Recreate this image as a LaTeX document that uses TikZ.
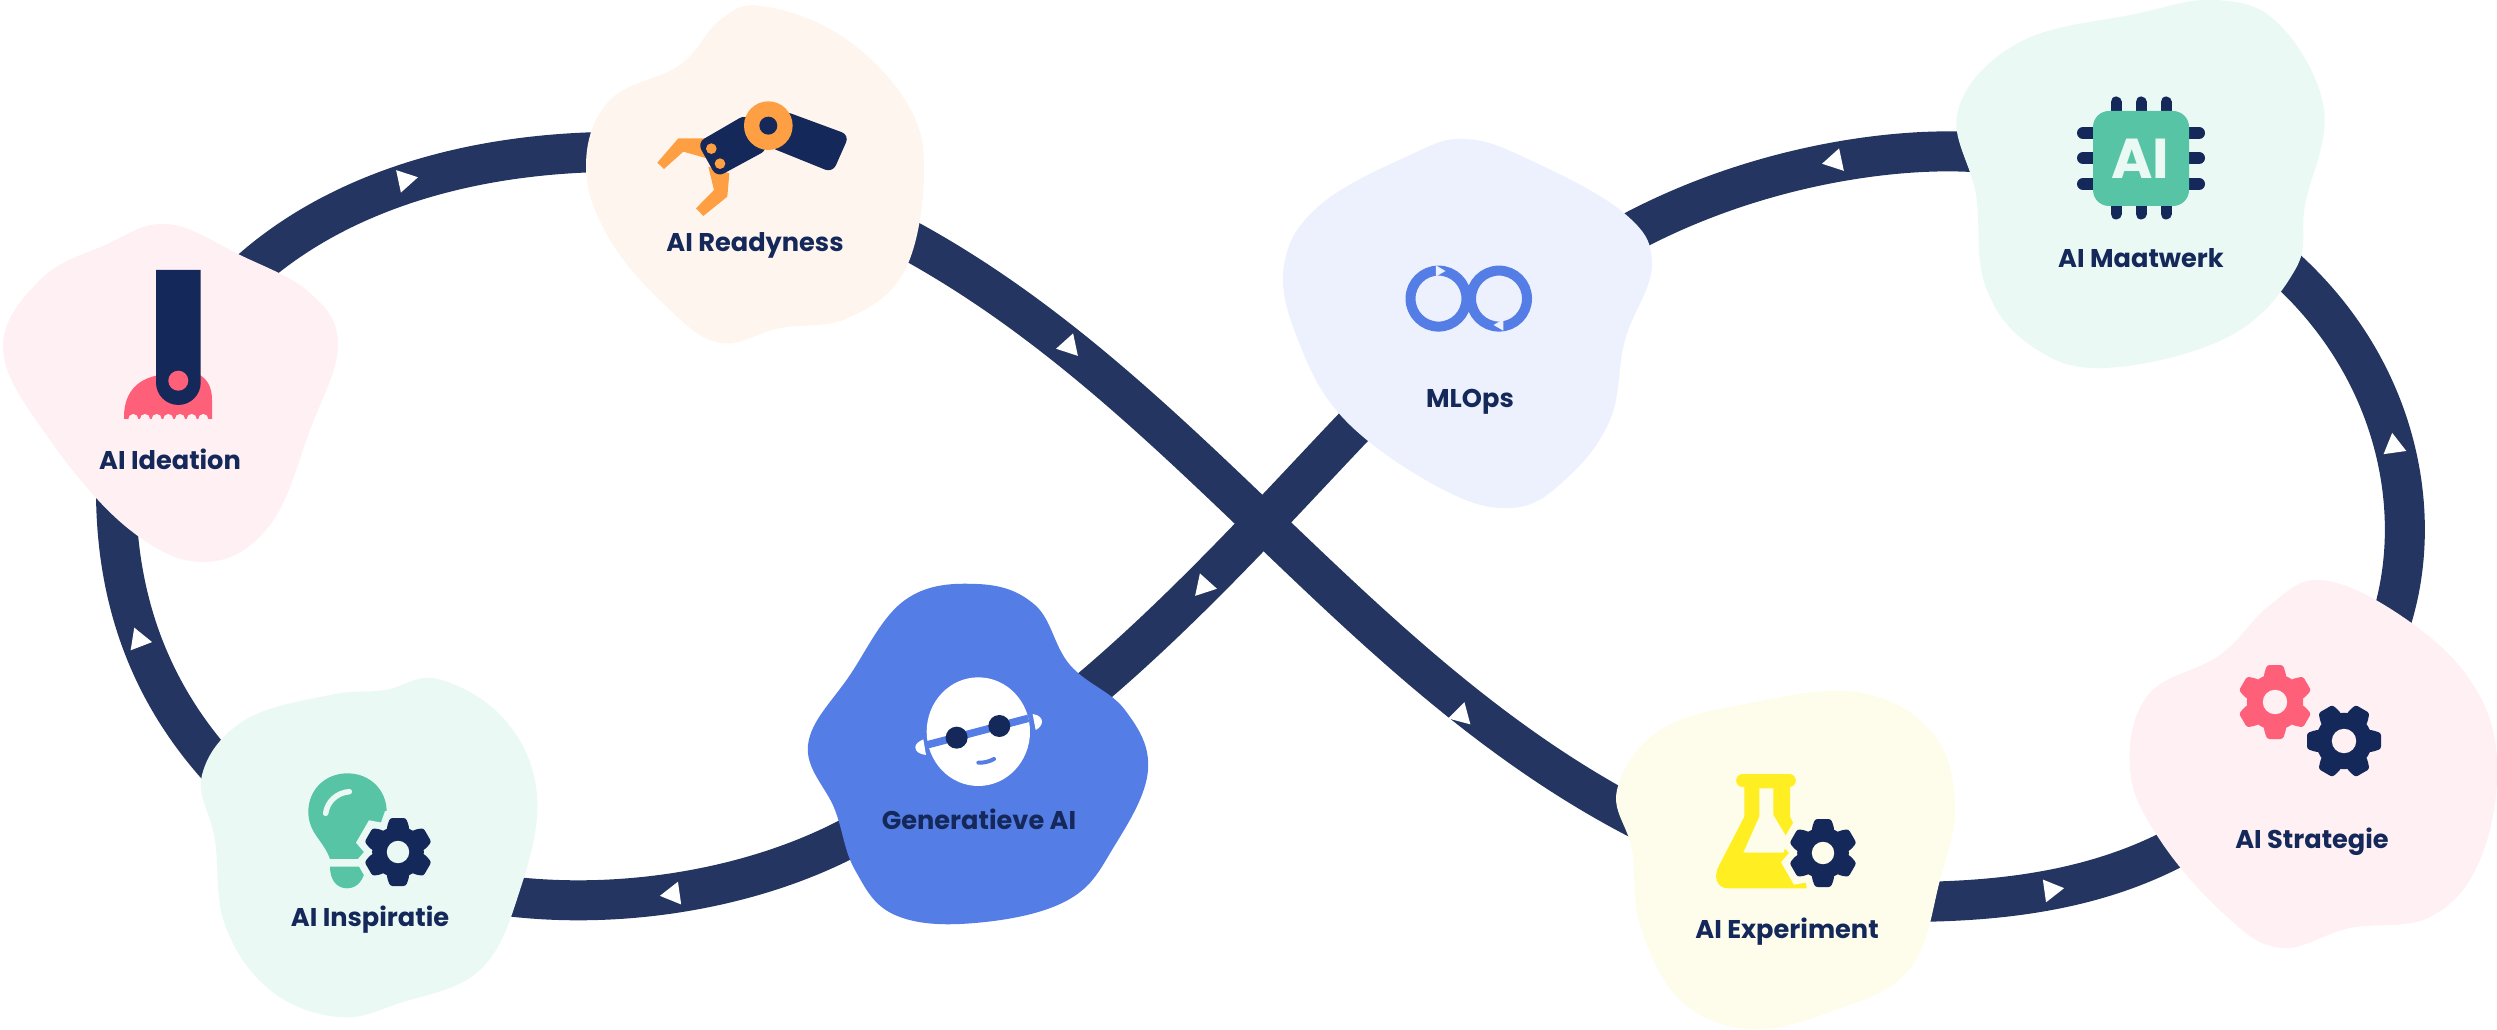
\documentclass[tikz,border=0pt]{standalone}
\usepackage{fontspec}
\setmainfont{Poppins}
\usetikzlibrary{shapes}
\definecolor{bandnavy}{HTML}{233560}
\definecolor{iconnavy}{HTML}{14285A}
\definecolor{softpink}{HTML}{FEF0F3}
\definecolor{softorange}{HTML}{FEF5EE}
\definecolor{softmint}{HTML}{EBF9F5}
\definecolor{softblue}{HTML}{ECF1FD}
\definecolor{softyellow}{HTML}{FEFDEB}
\definecolor{strongblue}{HTML}{557DE6}
\definecolor{strongpink}{HTML}{FF6079}
\definecolor{strongorange}{HTML}{FF9F43}
\definecolor{strongmint}{HTML}{57C5A5}
\definecolor{strongyellow}{HTML}{FFEF22}
\tikzstyle{band}=[draw=bandnavy,line width=4mm]
\tikzstyle{blobcurve}=[smooth cycle,tension=0.65]
\tikzstyle{blobtext}=[anchor=base,inner sep=0pt,text=iconnavy,font=\fontsize{7.3pt}{9pt}\selectfont\bfseries]
\tikzstyle{flowmark}=[regular polygon,regular polygon sides=3,fill=white,inner sep=0pt,minimum size=2.65mm]
\tikzstyle{ringmark}=[regular polygon,regular polygon sides=3,fill=softblue,inner sep=0pt,minimum size=1.3mm]
\tikzset{
	pics/gearicon/.style n args={4}{code={
		\foreach \a in {0,60,...,300} {
			\filldraw[draw=#2,fill=#2,line width=1.4mm,rotate=\a+#3] (0,-11) -- (0.75*#4,-11) -- (#4,-8) -- (#4,8) -- (0.75*#4,11) -- (0,11) -- cycle;
		}
		\foreach \a in {0,60,...,300} {
			\fill[#1,rotate=\a+#3,rounded corners=0.25mm] (0,-11) -- (0.75*#4,-11) -- (#4,-8) -- (#4,8) -- (0.75*#4,11) -- (0,11) -- cycle;
		}
		\fill[#1] (0,0) circle (0.76*#4);
		\fill[#2] (0,0) circle (0.33*#4);
	}}
}

\begin{document}
\begin{tikzpicture}[x=0.1mm,y=-0.1mm]
	\useasboundingbox (0,0) rectangle (2497,1030);

	\coordinate (ideationtop) at (235,285);
	\coordinate (readynessleft) at (640,152);
	\coordinate (readynessright) at (880,225);
	\coordinate (experimentleft) at (1650,825);
	\coordinate (experimentright) at (1900,902);
	\coordinate (strategieleft) at (2220,820);
	\coordinate (strategietop) at (2380,650);
	\coordinate (maatwerkright) at (2270,255);
	\coordinate (maatwerkleft) at (1985,153);
	\coordinate (mlopsright) at (1600,250);
	\coordinate (mlopsleft) at (1380,400);
	\coordinate (generatieveright) at (1065,710);
	\coordinate (generatieveleft) at (880,820);
	\coordinate (inspiratieright) at (480,892);
	\coordinate (inspiratieleft) at (235,785);
	\coordinate (ideationbottom) at (116,490);

	\draw[band] (ideationtop) .. controls (320,200) and (460,148) .. (readynessleft);
	\draw[band] (readynessright) .. controls (1180,375) and (1350,675) .. (experimentleft);
	\draw[band] (experimentright) .. controls (2000,902) and (2120,892) .. (strategieleft);
	\draw[band] (strategietop) .. controls (2430,540) and (2410,370) .. (maatwerkright);
	\draw[band] (maatwerkleft) .. controls (1900,145) and (1740,165) .. (mlopsright);
	\draw[band] (mlopsleft) .. controls (1310,470) and (1190,610) .. (generatieveright);
	\draw[band] (generatieveleft) .. controls (770,890) and (610,915) .. (inspiratieright);
	\draw[band] (inspiratieleft) .. controls (150,700) and (116,600) .. (ideationbottom);

	\foreach \name/\x/\y/\a in {flowa/405/180/12,flowb/1069/346/-48,flowc/1461/715/-45,flowd/2051/890/8,flowe/2394/446/98,flowf/1835/161/192,flowg/1204/586/228,flowh/673/894/188,flowi/139/640/111} {
		\node[flowmark,rotate=\a-90] (\name) at (\x,\y) {};
	}

	\fill[softpink] plot[blobcurve] coordinates {(167,224) (240,255) (310,293) (338,345) (310,430) (270,525) (206,562) (130,530) (50,440) (3,350) (40,280) (105,245)};
	\fill[softorange] plot[blobcurve] coordinates {(761,6) (840,35) (905,100) (924,170) (905,270) (848,318) (780,328) (721,343) (670,310) (610,240) (586,166) (610,100) (680,65) (720,20)};
	\fill[softmint] plot[blobcurve] coordinates {(438,679) (505,720) (537,795) (520,890) (480,970) (400,1003) (338,1017) (270,990) (225,925) (215,840) (202,775) (245,720) (330,695) (385,690)};
	\fill[strongblue] plot[blobcurve] coordinates {(977,584) (1035,605) (1070,665) (1125,710) (1148,770) (1115,845) (1068,900) (975,923) (895,915) (855,870) (835,810) (808,745) (850,675) (905,600)};
	\fill[softblue] plot[blobcurve] coordinates {(1465,139) (1530,160) (1624,213) (1652,265) (1625,340) (1610,420) (1565,480) (1512,508) (1440,488) (1345,420) (1298,340) (1284,265) (1320,205) (1410,155)};
	\fill[softmint] plot[blobcurve] coordinates {(2217,0) (2280,25) (2324,110) (2305,205) (2295,270) (2228,337) (2105,368) (2030,345) (1985,285) (1976,195) (1958,110) (2020,42) (2135,14)};
	\fill[softyellow] plot[blobcurve] coordinates {(1857,692) (1930,730) (1955,800) (1940,880) (1909,970) (1830,1012) (1749,1029) (1680,1000) (1640,925) (1632,850) (1617,790) (1660,730) (1750,703)};
	\fill[softpink] plot[blobcurve] coordinates {(2321,580) (2400,615) (2470,680) (2497,760) (2480,860) (2430,917) (2350,928) (2281,948) (2225,915) (2160,840) (2130,770) (2148,695) (2220,655) (2270,605)};

	% ideation
	\fill[strongpink] (124,417) .. controls (124,390) and (140,378) .. (160,375) -- (200,375) .. controls (208,380) and (212,388) .. (212,400) -- (212,419) -- (124,419) -- cycle;
	\foreach \x in {133.3,145,156.7,168.3,180,191.7,203.3} {
		\fill[softpink] (\x,419) circle (5);
	}
	\fill[iconnavy] (156,270) -- (200.7,270) -- (200.7,382.6) arc (0:180:22.35) -- cycle;
	\fill[strongpink] (178.3,380.7) circle (10);

	% readyness
	\begin{scope}[shift={(640,90)},scale=0.3333]
		\fill[strongorange] (52,218) -- (115,145) -- (200,145) -- (200,205) -- (130,185) -- (72,237) -- cycle;
		\fill[strongorange] (205,230) -- (268,250) -- (262,320) -- (190,378) -- (168,355) -- (222,300) -- cycle;
		\fill[iconnavy,rounded corners=0.8mm] (172,158) -- (320,72) -- (385,178) -- (230,262) -- cycle;
		\fill[iconnavy,rounded corners=0.8mm] (430,62) -- (628,135) -- (578,248) -- (385,170) -- cycle;
		\fill[strongorange] (385,107) circle (73);
		\fill[iconnavy] (385,107) circle (27);
		\fill[strongorange] (214,176) circle (16);
		\fill[strongorange] (240,221) circle (16);
	\end{scope}

	% inspiratie
	\begin{scope}[shift={(290,760)},scale=0.3333]
		\fill[strongmint] (120,297) .. controls (100,240) and (55,220) .. (55,155) .. controls (55,90) and (105,40) .. (172,40) .. controls (240,40) and (290,90) .. (290,155) .. controls (290,220) and (245,240) .. (225,297) -- cycle;
		\fill[strongmint] (120,320) -- (225,320) .. controls (225,360) and (200,385) .. (172,385) .. controls (140,385) and (120,360) .. (120,320) -- cycle;
		\draw[softmint,line width=0.55mm,line cap=round] (107,160) .. controls (112,125) and (140,98) .. (178,95);
	\end{scope}
	\pic at (398,852) {gearicon={iconnavy}{softmint}{90}{34}};

	% generatieve
	\begin{scope}[shift={(900,660)},scale=0.3333]
		\fill[white] (235,215) ellipse (155 and 163);
		\fill[white] (398,162) .. controls (418,165) and (426,175) .. (426,185) .. controls (426,195) and (418,205) .. (407,210) -- cycle;
		\fill[white] (70,238) .. controls (55,245) and (46,252) .. (46,262) .. controls (46,275) and (60,283) .. (78,285) -- cycle;
		\draw[strongblue,line width=0.75mm] (80,255) -- (385,175);
		\fill[iconnavy] (170,233) circle (33);
		\fill[iconnavy] (298,198) circle (33);
		\draw[strongblue,line width=0.4mm,line cap=round] (235,308) .. controls (250,309) and (268,305) .. (282,297);
	\end{scope}

	% mlops
	\draw[strongblue,line width=1mm] (1438.5,298.6) circle (28);
	\draw[strongblue,line width=1mm] (1499,298.6) circle (28);
	\node[ringmark,rotate=-90] (ringleft) at (1439,271) {};
	\node[ringmark,rotate=90] (ringright) at (1500,325) {};

	% maatwerk
	\foreach \x in {2116,2141,2166} {
		\draw[iconnavy,line width=1.1mm,line cap=round] (\x,102) -- (\x,214);
	}
	\foreach \y in {133,158,184} {
		\draw[iconnavy,line width=1.2mm,line cap=round] (2083,\y) -- (2199,\y);
	}
	\fill[strongmint,rounded corners=1.6mm] (2093,111) rectangle (2189,206);
	\node[anchor=base,inner sep=0pt,text=softmint,font=\fontsize{16pt}{18pt}\selectfont\bfseries] (chiptext) at (2140,179) {AI};

	% experiment
	\begin{scope}[shift={(1700,760)},scale=0.3333]
		\draw[strongyellow,line width=1.3mm,line cap=round] (128,62) -- (268,62);
		\fill[strongyellow] (133,60) -- (133,170) -- (58,315) .. controls (38,350) and (50,385) .. (85,385) -- (320,385) -- (300,230) -- (270,170) -- (270,60) -- cycle;
		\fill[softyellow] (178,85) -- (220,85) -- (220,165) -- (265,240) -- (250,278) -- (130,278) -- (178,170) -- cycle;
	\end{scope}
	\pic at (1823,853) {gearicon={iconnavy}{softyellow}{90}{34}};

	% strategie
	\pic at (2275,702) {gearicon={strongpink}{softpink}{90}{37}};
	\pic at (2344,741) {gearicon={iconnavy}{softpink}{0}{37}};

	\node[blobtext] (ideationlabel) at (170,470) {AI Ideation};
	\node[blobtext] (readynesslabel) at (755,251.6) {AI Readyness};
	\node[blobtext] (inspiratielabel) at (370,926) {AI Inspiratie};
	\node[blobtext] (generatievelabel) at (979,829) {Generatieve AI};
	\node[blobtext] (mlopslabel) at (1470,408) {MLOps};
	\node[blobtext] (maatwerklabel) at (2141,268) {AI Maatwerk};
	\node[blobtext] (experimentlabel) at (1787,938) {AI Experiment};
	\node[blobtext] (strategielabel) at (2312,848) {AI Strategie};
\end{tikzpicture}
\end{document}
